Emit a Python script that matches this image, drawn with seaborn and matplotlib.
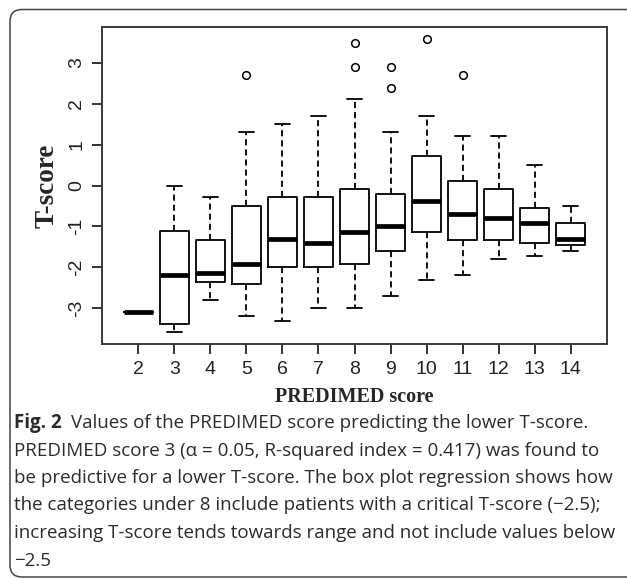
import numpy as np
import pandas as pd
import matplotlib
matplotlib.use("Agg")
import matplotlib.pyplot as plt
import seaborn as sns
from matplotlib import font_manager
from matplotlib.patches import FancyBboxPatch
from matplotlib.transforms import IdentityTransform

# PREDIMED score categories and the T-score box summaries
scores = ["2", "3", "4", "5", "6", "7", "8", "9", "10", "11", "12", "13", "14"]
whisker_low = [-3.10, -3.59, -2.79, -3.19, -3.30, -2.99, -2.99, -2.70, -2.30, -2.19, -1.80, -1.72, -1.60]
q1 = [-3.10, -3.38, -2.37, -2.40, -1.99, -1.99, -1.91, -1.59, -1.14, -1.32, -1.32, -1.41, -1.46]
median = [-3.10, -2.19, -2.13, -1.91, -1.31, -1.40, -1.14, -1.00, -0.39, -0.70, -0.80, -0.91, -1.31]
q3 = [-3.10, -1.11, -1.32, -0.49, -0.29, -0.29, -0.09, -0.20, 0.71, 0.11, -0.09, -0.54, -0.91]
whisker_high = [-3.10, 0.00, -0.29, 1.31, 1.50, 1.70, 2.11, 1.31, 1.70, 1.20, 1.20, 0.51, -0.49]

# points beyond the whiskers
outlier_score = ["5", "8", "8", "9", "9", "10", "11"]
outlier_value = [2.70, 2.89, 3.49, 2.89, 2.38, 3.59, 2.70]

yticks = [-3, -2, -1, 0, 1, 2, 3]

caption_head = "Fig. 2"
caption_lines = [
    "Values of the PREDIMED score predicting the lower T-score.",
    "PREDIMED score 3 (\u03b1 = 0.05, R-squared index = 0.417) was found to",
    "be predictive for a lower T-score. The box plot regression shows how",
    "the categories under 8 include patients with a critical T-score (\u22122.5);",
    "increasing T-score tends towards range and not include values below",
    "\u22122.5",
]

sns.set_style("ticks")
plt.rcParams["font.family"] = ["Liberation Sans", "DejaVu Sans"]

# long table, five summary values per category -> quartiles come out exact
df = pd.DataFrame({
    "score": np.repeat(scores, 5),
    "tscore": np.column_stack([whisker_low, q1, median, q3, whisker_high]).ravel(),
})

W, H = 627, 579
fig = plt.figure(figsize=(W / 100, H / 100), dpi=100)
fig.patch.set_facecolor("white")
ax = fig.add_axes([101.7 / W, 1 - 344.3 / H, (607.3 - 101.7) / W, (344.3 - 26.7) / H])

sns.boxplot(data=df, x="score", y="tscore", order=scores, fill=False, color="black",
            width=0.8, linewidth=1.3, whis=(0, 100),
            whiskerprops={"linestyle": (0, (3.4, 2.2))},
            medianprops={"linewidth": 3.4}, ax=ax)
sns.stripplot(x=outlier_score, y=outlier_value, order=scores, jitter=False,
              color="white", edgecolor="black", linewidth=1.1, size=5.5, ax=ax)

ax.set_xlim(-1.02, 13.02)
ax.set_ylim(-3.88, 3.88)
ax.set_xticks(range(len(scores)))
ax.set_xticklabels(scores)
ax.set_yticks(yticks)
ax.set_yticklabels([str(v) for v in yticks], rotation=90, va="center")
ax.tick_params(length=7, width=1.4, color="#333333", labelsize=14, labelcolor="#222222", pad=5)
for s in ax.spines.values():
    s.set_visible(True)
    s.set_linewidth(1.4)
    s.set_color("#3a3a3a")

serif_bold = {"family": ["Liberation Serif", "DejaVu Serif"], "weight": "bold"}
ax.set_ylabel("T-score", fontdict=serif_bold, fontsize=19.5)
ax.set_xlabel("PREDIMED score", fontdict=serif_bold, fontsize=14.5)
ax.yaxis.set_label_coords(-0.083, 0.5)
ax.xaxis.set_label_coords(0.5, -0.134)

# caption under the chart
names = {f.name for f in font_manager.fontManager.ttflist}
cap_font = "Liberation Sans Narrow" if "Liberation Sans Narrow" in names else "Open Sans"
cap_color = "#2b2b2b"
fig.canvas.draw()
r = fig.canvas.get_renderer()
probe = fig.text(0, 0, caption_lines[3], fontsize=10, family=cap_font)
w = probe.get_window_extent(r).width
probe.remove()
cap_size = 10 * (603 - 14) / w

baselines = [428, 455.5, 483, 510.5, 538, 565.5]
x0 = 14 / W
head = fig.text(x0, 1 - baselines[0] / H, caption_head, fontsize=cap_size, family=cap_font,
                weight="bold", color=cap_color, va="baseline")
hx = head.get_window_extent(r).x1 + 0.7 * cap_size
fig.text(hx / W, 1 - baselines[0] / H, caption_lines[0], fontsize=cap_size, family=cap_font,
         color=cap_color, va="baseline")
for line, yb in zip(caption_lines[1:], baselines[1:]):
    fig.text(x0, 1 - yb / H, line, fontsize=cap_size, family=cap_font,
             color=cap_color, va="baseline")

# rounded frame around figure + caption (runs off the right edge)
frame = FancyBboxPatch((10, H - 577), 660, 577 - 9.5, boxstyle="round,pad=0,rounding_size=12",
                       transform=IdentityTransform(), fill=False, edgecolor="#444444",
                       linewidth=1.1)
fig.add_artist(frame)

fig.savefig("out.png", dpi=100)
